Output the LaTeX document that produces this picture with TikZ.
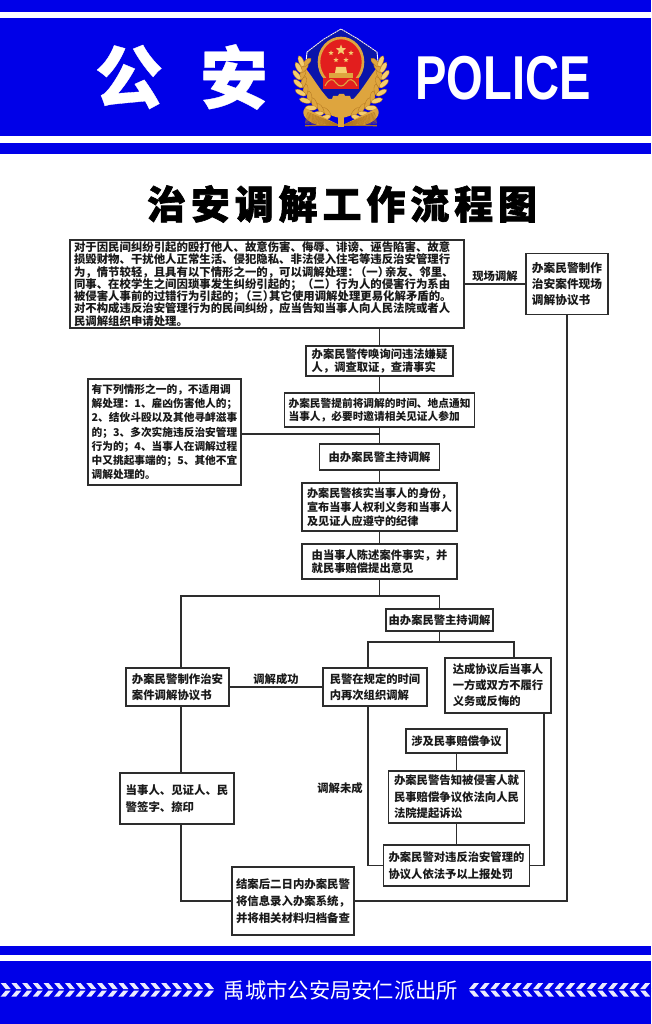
\documentclass[tikz,border=0pt]{standalone}
\usepackage{graphicx}
\usepackage{fontspec}
\usetikzlibrary{shapes.geometric}
\newfontfamily\cjk{Noto Sans CJK SC}
\newfontfamily\bannercjk[BoldFeatures={FakeBold=0.5}]{Noto Sans CJK SC}
\newfontfamily\heavycjk[BoldFeatures={FakeBold=1.6}]{Noto Sans CJK SC}
\newfontfamily\policefont{Liberation Sans}
\definecolor{policeblue}{RGB}{0,0,232}
\definecolor{shieldblue}{RGB}{10,20,170}
\definecolor{badgegold}{RGB}{222,165,62}
\definecolor{badgedark}{RGB}{175,115,30}
\definecolor{badgelight}{RGB}{245,205,110}
\definecolor{badgered}{RGB}{226,30,30}
\definecolor{boxline}{RGB}{45,45,45}
\newcommand{\wheatside}{%
  \fill[badgegold] (340,118) .. controls (318,114) and (298,92) .. (300,62) .. controls (314,76) and (322,98) .. (340,108) -- cycle;
  \foreach \sx/\sy/\sa in {330/116/165,323/113/155,316/108/145,310/102/130,305/95/118,302/87/105,300/79/95,301/72/85,303/66/78}{
    \draw[badgedark,fill=badgegold,line width=.3pt,rotate around={\sa-34:(\sx,\sy)}] (\sx+5,\sy) ellipse (6 and 2.4);
    \draw[badgedark,fill=badgelight,line width=.3pt,rotate around={\sa+34:(\sx,\sy)}] (\sx+5,\sy) ellipse (6 and 2.4);
  }
  \fill[badgegold] (339,125) -- (305,108) .. controls (300,114) and (306,123) .. (322,126) -- cycle;
  \foreach \fa in {158,160,...,182}{
    \draw[badgedark,line width=.4pt] (339,125) -- ++(\fa:34pt);
  }
}
\begin{document}
\begin{tikzpicture}[x=1pt,y=-1pt,
band/.style={fill=policeblue, draw=none},
flowbox/.style 2 args={rectangle, draw=boxline, fill=white, line width=1.1pt, inner sep=0pt, align=left, minimum width=#1pt, minimum height=#2pt},
textsize/.style 2 args={text=black!90, font=\cjk\bfseries\fontsize{#1}{#2}\selectfont},
flowlabel/.style={text=black!90, inner sep=2pt, font=\cjk\bfseries\fontsize{11.3}{13}\selectfont},
flowline/.style={draw=boxline, line width=1.1pt},
chevron/.style={fill=white!92!policeblue, draw=none},
badgestar/.style={star, star points=5, star point ratio=2.4, fill=badgelight, draw=none, inner sep=0pt},
]
\useasboundingbox (0,0) rectangle (651,1024);
\fill[white] (0,0) rectangle (651,1024);

%Bands
\fill[band] (0,0) rectangle (651,12);
\fill[band] (0,18) rectangle (651,136);
\fill[band] (0,143) rectangle (651,154);
\fill[band] (0,946) rectangle (651,955);
\fill[band] (0,961) rectangle (651,1024);

%Badge
\fill[shieldblue] (341,29) -- (324,39) -- (307,52) .. controls (306,76) and (320,100) .. (341,112) .. controls (362,100) and (376,76) .. (377,52) -- (358,39) -- cycle;
\draw[white!85!badgegold, line width=.9pt, dash pattern=on 2pt off .6pt] (307,52) -- (324,39) -- (341,29) -- (358,39) -- (377,52);
\draw[white, line width=.9pt] (307,52) -- (306,62);
\draw[white, line width=.9pt] (377,52) -- (378,62);
\wheatside
\begin{scope}[xshift=682pt,xscale=-1]
\wheatside
\end{scope}
\fill[badgegold] (320,103) -- (322,97) -- (326,97) -- (327,99) -- (332,99) -- (333,96) -- (338,96) -- (339,94) -- (344,94) -- (345,96) -- (350,96) -- (351,99) -- (356,99) -- (357,97) -- (361,97) -- (363,103) -- (345,112) -- (338,112) -- cycle;
\fill[badgegold] (338,108) rectangle (344,127);
\draw[badgegold, fill=badgered, line width=2.6pt] (341,62) ellipse (22 and 24);
\node[badgestar, minimum size=11pt] (bigstar) at (341,50) {};
\foreach \bx/\by [count=\bi] in {331/53,351/53,336/60,346/60}{
  \node[badgestar, minimum size=5.5pt] (star\bi) at (\bx,\by) {};
}
\fill[badgelight] (335,73) -- (336,67) -- (346,67) -- (347,73) -- cycle;
\fill[badgegold] (329,73) rectangle (353,78);
\fill[badgered] (323,78) rectangle (359,89);
\draw[badgegold, line width=1.1pt] (325,86) .. controls (329,78) and (333,78) .. (336,83) .. controls (339,87) and (343,87) .. (346,83) .. controls (349,78) and (353,78) .. (357,86);

%Texts
\node[text=white, inner sep=0pt, font=\bannercjk\bfseries\fontsize{68}{68}\selectfont] (gong) at (129,77) {公};
\node[text=white, inner sep=0pt, font=\bannercjk\bfseries\fontsize{68}{68}\selectfont] (an) at (234,77) {安};
\node[text=white, inner sep=0pt, font=\policefont\bfseries\fontsize{62}{62}\selectfont] (police) at (503,78) {\scalebox{.76}[1]{POLICE}};
\node[text=black, inner sep=0pt, font=\heavycjk\bfseries\fontsize{39}{39}\selectfont] (title) at (342,204) {\addfontfeature{LetterSpace=12.5}治安调解工作流程图};
\node[text=white, inner sep=0pt, font=\cjk\fontsize{21.3}{22}\selectfont] (station) at (341,990) {禹城市公安局安仁派出所};

%Chevrons
\foreach \i in {0,...,20}{
  \pgfmathsetmacro{\cx}{204-10.7*\i}
  \fill[chevron] (\cx,983) -- (\cx+5,983) -- (\cx+10,989) -- (\cx+5,989) -- cycle;
  \fill[chevron] (\cx,996.5) -- (\cx+5,996.5) -- (\cx+10,990.5) -- (\cx+5,990.5) -- cycle;
}
\foreach \i in {0,...,17}{
  \pgfmathsetmacro{\cx}{479+10.7*\i}
  \fill[chevron] (\cx,983) -- (\cx-5,983) -- (\cx-10,989) -- (\cx-5,989) -- cycle;
  \fill[chevron] (\cx,996.5) -- (\cx-5,996.5) -- (\cx-10,990.5) -- (\cx-5,990.5) -- cycle;
}

%Nodes
\node[flowbox={394}{88}, text width=386pt, textsize={11.4}{12.3}]   (scope)    at (267,284) {对于因民间纠纷引起的殴打他人、故意伤害、侮辱、诽谤、诬告陷害、故意\\损毁财物、干扰他人正常生活、侵犯隐私、非法侵入住宅等违反治安管理行\\为，情节较轻，且具有以下情形之一的，可以调解处理：\kern-4pt（一）\kern-4pt亲友、邻里、\\同事、在校学生之间因琐事发生纠纷引起的；（二）行为人的侵害行为系由\\被侵害人事前的过错行为引起的；\kern-5pt（三）\kern-5pt其它使用调解处理更易化解矛盾的。\\对不构成违反治安管理行为的民间纠纷，应当告知当事人向人民法院或者人\\民调解组织申请处理。};
\node[flowbox={82}{61}, textsize={11.7}{15.7}]    (onsite)   [right of=scope, node distance=300pt] {办案民警制作\\治安案件现场\\调解协议书};
\node[flowbox={147}{30}, textsize={11.3}{13.5}]   (summon)   at (379.5,361) {办案民警传唤询问违法嫌疑\\人，调查取证，查清事实};
\node[flowbox={190}{34}, textsize={10.7}{13.5}]   (notify)   [below of=summon, node distance=49pt] {办案民警提前将调解的时间、地点通知\\当事人，必要时邀请相关见证人参加};
\node[flowbox={120}{26}, textsize={11.3}{13.5}]   (host)     [below of=notify, node distance=47pt] {由办案民警主持调解};
\node[flowbox={155}{48}, textsize={11.15}{13.8}]  (verify)   [below of=host, node distance=50pt] {办案民警核实当事人的身份，\\宣布当事人权利义务和当事人\\及见证人应遵守的纪律};
\node[flowbox={155}{35}, textsize={11.3}{13.5}]   (state)    [below of=verify, node distance=54.5pt] {由当事人陈述案件事实，并\\就民事赔偿提出意见};
\node[flowbox={153}{106}, textsize={10.7}{14.2}]  (exclude)  at (164.5,432) {有下列情形之一的，不适用调\\解处理：1、雇凶伤害他人的；\\2、结伙斗殴以及其他寻衅滋事\\的；3、多次实施违反治安管理\\行为的；4、当事人在调解过程\\中又挑起事端的；5、其他不宜\\调解处理的。};
\node[flowbox={107}{22}, textsize={11.3}{13.5}]   (rehost)   at (439.5,620) {由办案民警主持调解};
\node[flowbox={103}{38}, textsize={11.4}{16}]     (agree)    at (177.5,687) {办案民警制作治安\\案件调解协议书};
\node[flowbox={104}{38}, textsize={11.3}{16}]     (retry)    [right of=agree, node distance=197.5pt] {民警在规定的时间\\内再次组织调解};
\node[flowbox={106}{55}, textsize={11.3}{16}]     (breach)   at (498,685.5) {达成协议后当事人\\一方或双方不履行\\义务或反悔的};
\node[flowbox={101}{24}, textsize={11.3}{13.5}]   (dispute)  at (456.5,741) {涉及民事赔偿争议};
\node[flowbox={136}{52}, textsize={11.36}{16.7}]  (lawsuit)  [below of=dispute, node distance=56pt] {办案民警告知被侵害人就\\民事赔偿争议依法向人民\\法院提起诉讼};
\node[flowbox={146}{41}, textsize={11.33}{16.7}]  (punish)   [below of=lawsuit, node distance=68.5pt] {办案民警对违反治安管理的\\协议人依法予以上报处罚};
\node[flowbox={114}{51}, textsize={11.4}{16.7}]   (sign)     at (177,798.5) {当事人、见证人、民\\警签字、捺印};
\node[flowbox={122}{68}, textsize={11.4}{16.7}]   (archive)  at (293,901) {结案后二日内办案民警\\将信息录入办案系统，\\并将相关材料归档备查};
\node[flowlabel]                                  (failed)   at (340,788) {调解未成};
\coordinate (branchleft)  at (181,596);
\coordinate (forkleft)    at (368,642);
\coordinate (forkright)   at (514,642);
\coordinate (backright)   at (544,713);

%Lines
\draw[flowline] (scope.east) -- node[flowlabel, above] (onsitelabel) {现场调解} (onsite.west);
\draw[flowline] (summon.north |- scope.south) -- (summon.north);
\draw[flowline] (summon.south) -- (summon.south |- notify.north);
\draw[flowline] (notify.south) -- (host.north);
\draw[flowline] ([yshift=-2pt]exclude.east) -- ([yshift=-2pt]exclude.east -| notify.south);
\draw[flowline] (host.south) -- (verify.north);
\draw[flowline] (verify.south) -- (state.north);
\draw[flowline] (state.south) -- (state.south |- branchleft);
\draw[flowline] (rehost.north) |- (branchleft) -- (branchleft |- agree.north);
\draw[flowline] (rehost.south) -- (rehost.south |- forkleft);
\draw[flowline] (forkleft |- retry.north) |- (forkright) -- (forkright |- breach.north);
\draw[flowline] (agree.east) -- node[flowlabel, above] (successlabel) {调解成功} (retry.west);
\draw[flowline] (branchleft |- agree.south) -- (branchleft |- sign.north);
\draw[flowline] (branchleft |- sign.south) |- (archive.west);
\draw[flowline] (onsite.south) |- (archive.east);
\draw[flowline] (forkleft |- retry.south) |- (punish.west);
\draw[flowline] (backright) |- (punish.east);
\draw[flowline] (dispute.south) -- (lawsuit.north);
\draw[flowline] (lawsuit.south) -- (punish.north);
\end{tikzpicture}
\end{document}
